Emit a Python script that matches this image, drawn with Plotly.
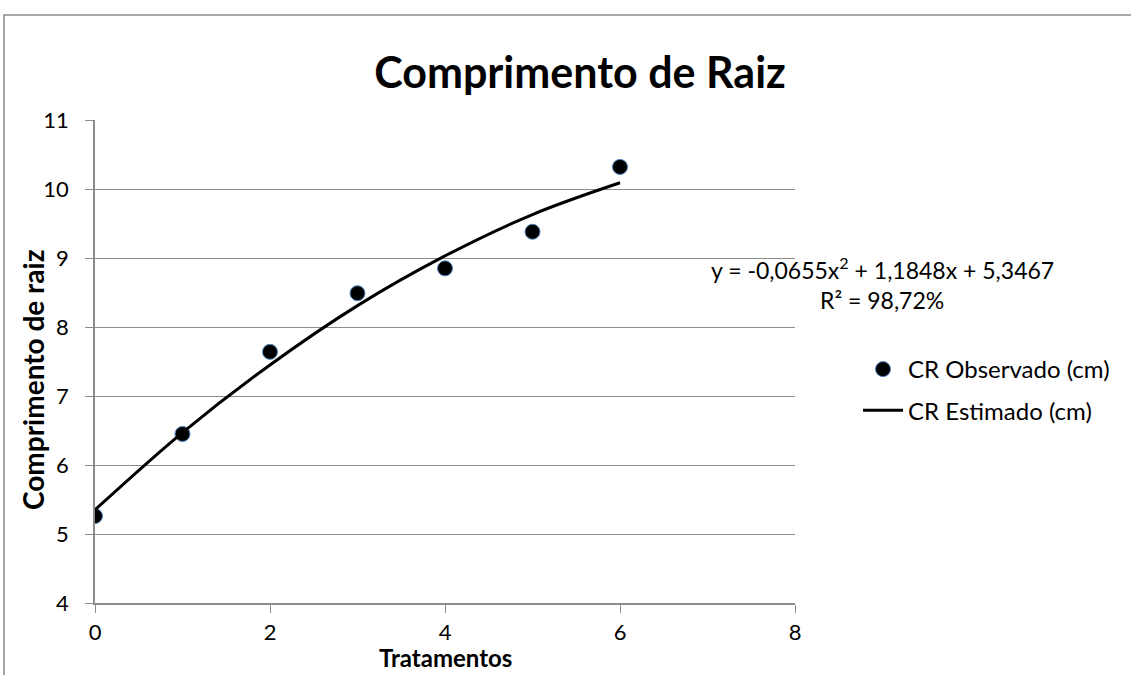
import plotly.graph_objects as go

tratamentos = [0, 1, 2, 3, 4, 5, 6]
cr_observado = [5.26, 6.45, 7.64, 8.49, 8.85, 9.38, 10.32]
cr_estimado = [5.35, 6.47, 7.45, 8.31, 9.03, 9.63, 10.09]

x_ticks = [0, 2, 4, 6, 8]
y_ticks = [4, 5, 6, 7, 8, 9, 10, 11]

FONT = "Lato, Calibri, Carlito, sans-serif"
GRID = "#8c8c8c"

fig = go.Figure()
fig.add_trace(go.Scatter(
    x=tratamentos, y=cr_observado, mode="markers", name="CR Observado (cm)",
    marker=dict(size=15, color="black", line=dict(color="#4F81BD", width=1)),
    legendgroup="a",
))
fig.add_trace(go.Scatter(
    x=tratamentos, y=cr_estimado, mode="lines", name="CR Estimado (cm)",
    line=dict(color="black", width=3, shape="spline"),
    legendgroup="b",
))

L, R, T, B = 95, 336, 120, 72
W, H = 1131, 675
pw, ph = W - L - R, H - T - B

def px_x(p):
    return (p - L) / pw

def px_y(p):
    return (H - B - p) / ph

fig.update_layout(
    width=W, height=H,
    margin=dict(l=L, r=R, t=T, b=B),
    paper_bgcolor="white", plot_bgcolor="white",
    font=dict(family=FONT, size=22, color="black"),
    title=dict(text="<b>Comprimento de Raiz</b>", x=580 / W, xanchor="center",
               y=1 - 73 / H, yanchor="middle", font=dict(size=43, family=FONT)),
    xaxis=dict(range=[0, 8], tickvals=x_ticks, showgrid=False, zeroline=False,
               showline=True, linecolor=GRID, linewidth=1.5,
               ticks="outside", ticklen=8, tickcolor=GRID, tickfont=dict(size=22),
               ticklabelstandoff=1),
    yaxis=dict(range=[4, 11], tickvals=y_ticks, showgrid=True, gridcolor=GRID, gridwidth=1.2,
               zeroline=False, showline=True, linecolor=GRID, linewidth=1.5,
               ticks="outside", ticklen=8, tickcolor=GRID, tickfont=dict(size=22),
               ticklabelstandoff=12),
    legend=dict(x=px_x(858), y=px_y(347), xanchor="left", yanchor="top",
                font=dict(size=24), tracegroupgap=7, itemwidth=40,
                bgcolor="rgba(0,0,0,0)"),
    showlegend=True,
)

# axis titles
fig.add_annotation(xref="paper", yref="paper", x=px_x(445), y=px_y(657),
                   text="<b>Tratamentos</b>", showarrow=False,
                   xanchor="center", yanchor="middle", font=dict(size=24))
fig.add_annotation(xref="paper", yref="paper", x=px_x(33), y=px_y(380),
                   text="<b>Comprimento de raiz</b>", showarrow=False, textangle=-90,
                   xanchor="center", yanchor="middle", font=dict(size=28))

# trendline equation
fig.add_annotation(xref="paper", yref="paper", x=px_x(882), y=px_y(268),
                   text="y = -0,0655x<sup>2</sup> + 1,1848x + 5,3467",
                   showarrow=False, xanchor="center", yanchor="middle", font=dict(size=23))
fig.add_annotation(xref="paper", yref="paper", x=px_x(882), y=px_y(300),
                   text="R² = 98,72%", showarrow=False, xanchor="center", yanchor="middle",
                   font=dict(size=23))

fig.add_shape(type="rect", xref="paper", yref="paper",
              x0=px_x(4), x1=px_x(1140), y0=px_y(690), y1=px_y(15),
              line=dict(color="#8c8c8c", width=1.5), fillcolor="rgba(0,0,0,0)", layer="below")

fig.write_html("out.html", config={"displayModeBar": False},
               post_script="document.body.style.margin='0';")
